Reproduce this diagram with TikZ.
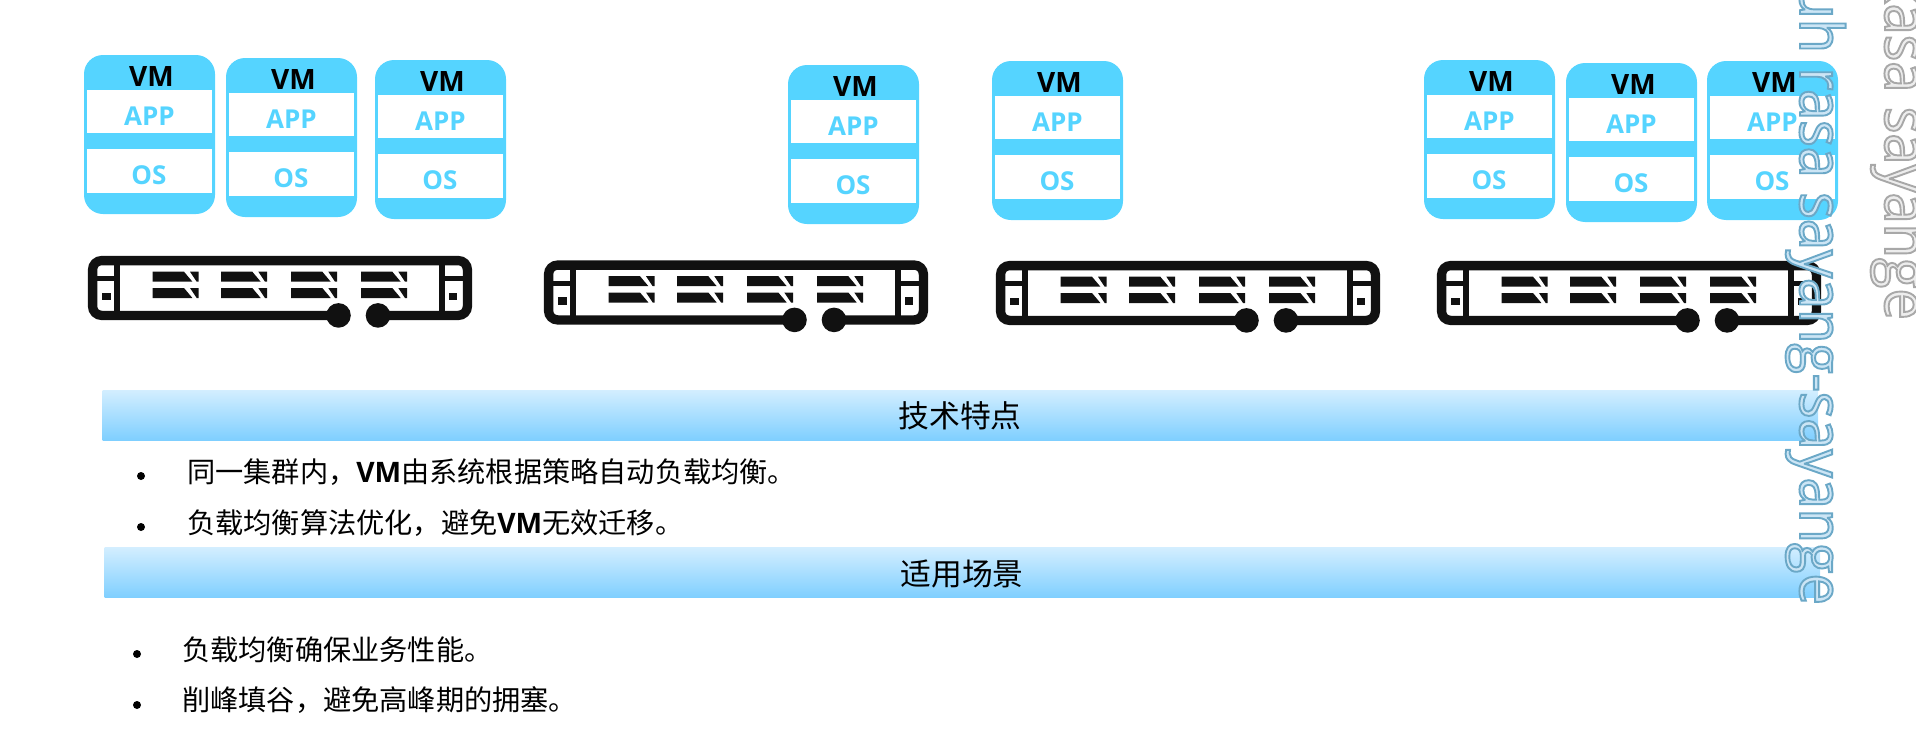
\documentclass[tikz,border=0pt]{standalone}
\usepackage{fontspec}
\setmainfont{Open Sans}
\newfontfamily\cjk{Noto Sans CJK SC}
\newfontfamily\markfont[FakeStretch=0.93]{Open Sans}
\definecolor{vmblue}{HTML}{55D4FF}
\definecolor{barlight}{HTML}{D3EEFF}
\definecolor{bardark}{HTML}{7FCFFF}
\definecolor{ink}{HTML}{111111}
\tikzset{
  card/.style={fill=vmblue,rounded corners=19pt},
  pane/.style={fill=white},
  vmtext/.style={font=\fontsize{28}{28}\selectfont\bfseries,text=black,inner sep=0pt},
  apptext/.style={font=\fontsize{26}{26}\selectfont\bfseries,text=vmblue,inner sep=0pt},
  bartitle/.style={font=\cjk\fontsize{30.8}{31}\selectfont,text=black,inner sep=0pt},
  bullettext/.style={font=\cjk\fontsize{28.2}{28}\selectfont,text=black,anchor=west,inner sep=0pt},
  dotmark/.style={fill=black,circle,minimum size=8pt,inner sep=0pt},
  headbar/.style={bottom color=bardark,top color=barlight,draw=none},
  frameline/.style={draw=ink,line width=9.3pt,rounded corners=9pt},
  vmcard/.pic={
    \fill[card] (0,0) rectangle (131,159);
    \fill[pane] (3,35) rectangle (128,78);
    \fill[pane] (3,94) rectangle (128,138);
    \node[vmtext] (-vm) at (67.5,22) {VM};
    \node[apptext] (-app) at (65.5,61) {APP};
    \node[apptext] (-os) at (65,120) {OS};
  },
  slotgroup/.pic={
    \foreach \t in {0,16.3} {
      \fill[ink] (0,\t) -- (31.3,\t) -- (39.7,\t+10) -- (0,\t+10) -- cycle;
      \fill[ink] (37.3,\t) -- (46,\t) -- (46,\t+10) -- (44,\t+10) -- cycle;
    }
  },
  serverbox/.pic={
    \fill[ink] (26,9) rectangle (31.5,55);
    \fill[ink] (351,9) rectangle (357,55);
    \fill[ink] (9,20) rectangle (27,25);
    \fill[ink] (357,20) rectangle (375,25);
    \fill[ink] (14.3,36.7) rectangle (22.6,44.3);
    \fill[ink] (361,36.7) rectangle (369,44.3);
    \draw[frameline] (290,59.4) -- (379.4,59.4) -- (379.4,4.6) -- (4.6,4.6) -- (4.6,59.4) -- (250.5,59.4);
    \fill[ink] (250.5,59.4) circle (12.3);
    \fill[ink] (290,59.4) circle (12.3);
    \path (64.7,15.7) pic {slotgroup};
    \path (133,15.7) pic {slotgroup};
    \path (203,15.7) pic {slotgroup};
    \path (273,15.7) pic {slotgroup};
  }
}
\begin{document}
\begin{tikzpicture}[x=1pt,y=-1pt]
\useasboundingbox (0,0) rectangle (1916,731);
\clip (0,0) rectangle (1916,731);
% virtual machines
\path (84,55) pic (vma) {vmcard};
\path (226,58) pic (vmb) {vmcard};
\path (375,60) pic (vmc) {vmcard};
\path (788,65) pic (vmd) {vmcard};
\path (992,61) pic (vme) {vmcard};
\path (1424,60) pic (vmf) {vmcard};
\path (1566,63) pic (vmg) {vmcard};
\path (1707,61) pic (vmh) {vmcard};
% servers
\path (88,256) pic (sa) {serverbox};
\path (544,260.5) pic (sb) {serverbox};
\path (996,261) pic (sc) {serverbox};
\path (1437,261) pic (sd) {serverbox};
% bars
\fill[headbar] (102.5,390) rectangle (1818,440);
\fill[headbar] (104.5,547.5) rectangle (1820,597.5);
\node[bartitle] (t1) at (960,415.5) {技术特点};
\node[bartitle] (t2) at (962,573.5) {适用场景};
% lists
\node[dotmark] (d1) at (141,476) {};
\node[bullettext] (l1) at (187,472) {同一集群内，\textbf{\fontspec{Open Sans}VM}由系统根据策略自动负载均衡。};
\node[dotmark] (d2) at (141,527) {};
\node[bullettext] (l2) at (187,523) {负载均衡算法优化，避免\textbf{\fontspec{Open Sans}VM}无效迁移。};
\node[dotmark] (d3) at (137,654) {};
\node[bullettext] (l3) at (182,649.5) {负载均衡确保业务性能。};
\node[dotmark] (d4) at (137,705) {};
\node[bullettext] (l4) at (182,700.5) {削峰填谷，避免高峰期的拥塞。};
% vertical lettering
\node[rotate=-90,anchor=base east,inner sep=0pt,font=\markfont\fontsize{60}{60}\selectfont] (w1) at (1800,605)
  {\special{pdf:code q 2 Tr 1.9 w 0.42 0.66 0.78 RG 0.80 0.90 0.96 rg}uh rasa sayang-sayange\special{pdf:code 0 Tr Q}};
\node[rotate=-90,anchor=base east,inner sep=0pt,font=\markfont\fontsize{60}{60}\selectfont] (w2) at (1885,320)
  {\special{pdf:code q 2 Tr 1.9 w 0.66 0.66 0.66 RG 0.93 0.93 0.93 rg}kasa sayange\special{pdf:code 0 Tr Q}};
\end{tikzpicture}
\end{document}
